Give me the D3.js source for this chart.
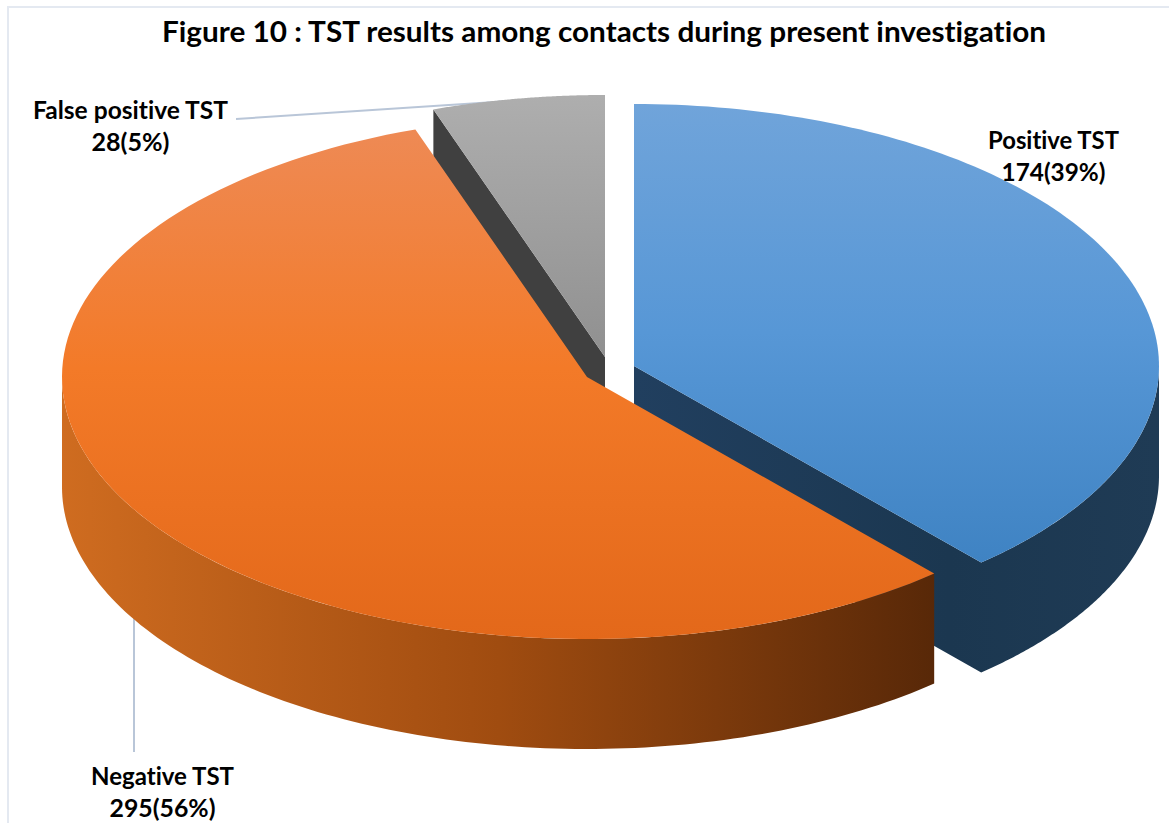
<!DOCTYPE html>
<html><head><meta charset="utf-8">
<script src="https://cdn.jsdelivr.net/npm/d3@7"></script>
<style>html,body{margin:0;padding:0;background:#fff}svg{display:block}text{font-family:Lato,"Open Sans",sans-serif;font-weight:700;fill:#000;font-variant-ligatures:none}</style>
</head><body><svg id="c" width="1169" height="823"></svg>
<script>
const titleText = "Figure 10 : TST results among contacts during present investigation";
const categories = ["Positive TST", "Negative TST", "False positive TST"];
const counts = [174, 295, 28];
const percents = [39, 56, 5];
// slice sweep (percent of the turn)
const sweepShares = [38.5, 56.2, 5.3];

const W = 1169, H = 823, RX = 525, RY = 262, DEPTH = 110;
const centers = [[634, 366], [587, 377], [605, 357]];
const svg = d3.select("#c");
const defs = svg.append("defs");

function grad(id, horizontal, x1, x2, stops) {
  const g = defs.append("linearGradient").attr("id", id).attr("gradientUnits", "userSpaceOnUse");
  if (horizontal) g.attr("x1", x1).attr("x2", x2).attr("y1", 0).attr("y2", 0);
  else g.attr("x1", 0).attr("x2", 0).attr("y1", x1).attr("y2", x2);
  stops.forEach(s => g.append("stop").attr("offset", s[0]).attr("stop-color", s[1]));
}
grad("topB", false, 103, 562, [[0, "#70a4da"], [0.5, "#5797d6"], [1, "#3f83c3"]]);
grad("topO", false, 128, 640, [[0, "#ee8a55"], [0.47, "#f37a28"], [1, "#e3681a"]]);
grad("topG", false, 95, 357, [[0, "#aeaeae"], [1, "#909090"]]);
grad("sideO", true, 62, 935, [[0, "#cf6c20"], [0.5, "#a04c10"], [1, "#582808"]]);
grad("sideB", true, 634, 1158, [[0, "#213f5f"], [0.6, "#1b3750"], [1, "#1f3b55"]]);

const pie = d3.pie().sort(null).value(d => d);
const arcs = pie(sweepShares);
const unit = d3.scaleLinear().domain([-1, 1]);
const sx = c => unit.copy().range([c[0] - RX, c[0] + RX]);
const sy = c => unit.copy().range([c[1] - RY, c[1] + RY]);
const pt = (c, a, dz = 0) => [sx(c)(Math.sin(a)), sy(c)(-Math.cos(a)) + dz];
const line = d3.line();
const samples = (a0, a1) => d3.range(0, 121).map(i => a0 + (a1 - a0) * i / 120);

function topPath(c, a) {
  return line([c, ...samples(a.startAngle, a.endAngle).map(t => pt(c, t))]) + "Z";
}
function rimPath(c, a0, a1) {
  const s = samples(a0, a1);
  return line([...s.map(t => pt(c, t)), ...s.slice().reverse().map(t => pt(c, t, DEPTH))]) + "Z";
}
function wallPath(c, a) {
  const p = pt(c, a);
  return line([c, p, [p[0], p[1] + DEPTH], [c[0], c[1] + DEPTH]]) + "Z";
}

const g = svg.append("g");
// frame: left and top edges only show in the picture
g.append("path").attr("d", `M8 ${H}V7H${W}`).attr("fill", "none").attr("stroke", "#e4e9f1").attr("stroke-width", 2);

// leader lines
const leader = [[[236, 119], [510, 101]], [[134, 615], [134, 752]]];
leader.forEach(l => g.append("path").attr("d", line(l)).attr("fill", "none").attr("stroke", "#b9c6d8").attr("stroke-width", 2));

// gray slice (back)
g.append("path").attr("d", wallPath(centers[2], arcs[2].startAngle)).attr("fill", "#404040");
g.append("path").attr("d", topPath(centers[2], arcs[2])).attr("fill", "url(#topG)");

// blue slice
g.append("path").attr("d", wallPath(centers[0], 0)).attr("fill", "#213f5f");
g.append("path")
  .attr("d", wallPath(centers[0], arcs[0].endAngle) + rimPath(centers[0], Math.PI / 2, arcs[0].endAngle))
  .attr("fill", "url(#sideB)");
g.append("path").attr("d", topPath(centers[0], arcs[0])).attr("fill", "url(#topB)");

// orange slice
g.append("path").attr("d", rimPath(centers[1], arcs[1].startAngle, 3 * Math.PI / 2)).attr("fill", "url(#sideO)");
g.append("path").attr("d", topPath(centers[1], arcs[1])).attr("fill", "url(#topO)");

// texts
svg.append("text").attr("x", 604).attr("y", 42).attr("text-anchor", "middle")
  .attr("font-size", 29).attr("textLength", 884).attr("lengthAdjust", "spacingAndGlyphs").text(titleText);

const labelPos = [[1053.5, 149], [162.5, 785], [130.5, 119]];
const labelWidths = [[131, 104], [143, 106], [195, 78]];
categories.forEach((name, i) => {
  const [x, y] = labelPos[i];
  g.append("text").attr("x", x).attr("y", y).attr("text-anchor", "middle").attr("font-size", 24)
    .attr("textLength", labelWidths[i][0]).attr("lengthAdjust", "spacingAndGlyphs").text(name);
  g.append("text").attr("x", x).attr("y", y + 32).attr("text-anchor", "middle").attr("font-size", 24)
    .attr("textLength", labelWidths[i][1]).attr("lengthAdjust", "spacingAndGlyphs").text(`${counts[i]}(${percents[i]}%)`);
});
</script></body></html>
